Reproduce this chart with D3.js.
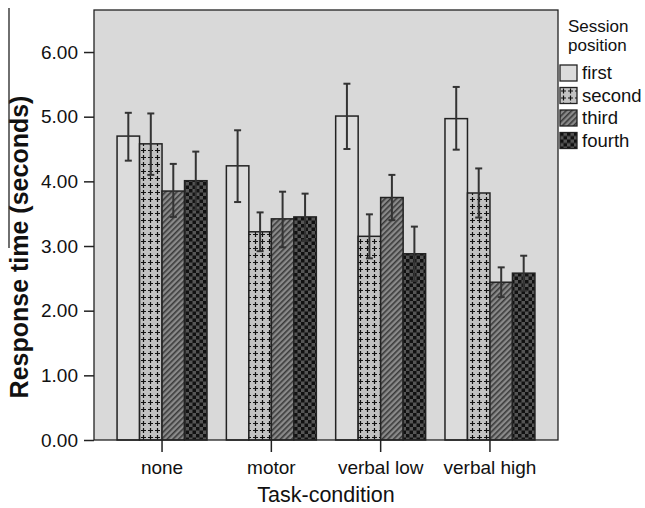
<!DOCTYPE html>
<html>
<head>
<meta charset="utf-8">
<script src="https://cdn.jsdelivr.net/npm/d3@7"></script>
<style>
  body { margin: 0; background: #fff; }
  text { font-family: "Liberation Sans", Arial, sans-serif; fill: #111; }
</style>
</head>
<body>
<svg id="chart"></svg>
<script>
// data
const categories = ["none", "motor", "verbal low", "verbal high"];
const sessions = ["first", "second", "third", "fourth"];

const meanFirst  = [4.70, 4.24, 5.01, 4.97];
const meanSecond = [4.58, 3.22, 3.15, 3.82];
const meanThird  = [3.85, 3.42, 3.75, 2.44];
const meanFourth = [4.01, 3.45, 2.88, 2.58];

const hiFirst  = [5.06, 4.79, 5.51, 5.46];
const hiSecond = [5.05, 3.52, 3.49, 4.20];
const hiThird  = [4.27, 3.84, 4.10, 2.67];
const hiFourth = [4.46, 3.81, 3.30, 2.85];

const loFirst  = [4.32, 3.68, 4.50, 4.49];
const loSecond = [4.10, 2.92, 2.81, 3.44];
const loThird  = [3.45, 2.98, 3.40, 2.21];
const loFourth = [3.56, 3.09, 2.46, 2.31];

const yTicks = [0, 1, 2, 3, 4, 5, 6];

const means = [meanFirst, meanSecond, meanThird, meanFourth];
const his = [hiFirst, hiSecond, hiThird, hiFourth];
const los = [loFirst, loSecond, loThird, loFourth];

const rows = [];
categories.forEach((c, ci) => {
  sessions.forEach((s, si) => {
    rows.push({ cat: c, session: s, mean: means[si][ci], hi: his[si][ci], lo: los[si][ci] });
  });
});

const width = 645, height = 508;
const plot = { left: 94, right: 558, top: 10, bottom: 440 };

const svg = d3.select("#chart")
  .attr("width", width)
  .attr("height", height);

const defs = svg.append("defs");

// pattern for "second": pluses on light gray
const pPlus = defs.append("pattern")
  .attr("id", "pat-second")
  .attr("patternUnits", "userSpaceOnUse")
  .attr("width", 7).attr("height", 7);
pPlus.append("rect").attr("width", 7).attr("height", 7).attr("fill", "#c2c2c2");
pPlus.append("path")
  .attr("d", "M3.5,1 V6 M1,3.5 H6")
  .attr("stroke", "#111").attr("stroke-width", 1.2);

// pattern for "third": diagonal hatch
const pHatch = defs.append("pattern")
  .attr("id", "pat-third")
  .attr("patternUnits", "userSpaceOnUse")
  .attr("width", 4).attr("height", 4)
  .attr("patternTransform", "rotate(45)");
pHatch.append("rect").attr("width", 4).attr("height", 4).attr("fill", "#8a8a8a");
pHatch.append("rect").attr("width", 1.6).attr("height", 4).attr("fill", "#3a3a3a");

// pattern for "fourth": checkerboard
const pCheck = defs.append("pattern")
  .attr("id", "pat-fourth")
  .attr("patternUnits", "userSpaceOnUse")
  .attr("width", 7).attr("height", 7);
pCheck.append("rect").attr("width", 7).attr("height", 7).attr("fill", "#555");
pCheck.append("rect").attr("width", 3.5).attr("height", 3.5).attr("fill", "#111");
pCheck.append("rect").attr("x", 3.5).attr("y", 3.5).attr("width", 3.5).attr("height", 3.5).attr("fill", "#111");

const fills = {
  first: "#dcdcdc",
  second: "url(#pat-second)",
  third: "url(#pat-third)",
  fourth: "url(#pat-fourth)"
};

// scales
const x = d3.scaleBand()
  .domain(categories)
  .range([plot.left, plot.right])
  .paddingInner(0.177)
  .paddingOuter(0.211);

const xs = d3.scaleBand()
  .domain(sessions)
  .range([0, x.bandwidth()]);

const y = d3.scaleLinear()
  .domain([0, 6.65])
  .range([plot.bottom, plot.top]);

// plot background
svg.append("rect")
  .attr("x", plot.left).attr("y", plot.top)
  .attr("width", plot.right - plot.left)
  .attr("height", plot.bottom - plot.top)
  .attr("fill", "#d9d9d9");

// bars
svg.append("g").selectAll("rect")
  .data(rows)
  .join("rect")
  .attr("x", d => x(d.cat) + xs(d.session))
  .attr("y", d => y(d.mean))
  .attr("width", xs.bandwidth())
  .attr("height", d => y(0) - y(d.mean))
  .attr("fill", d => fills[d.session])
  .attr("stroke", "#222")
  .attr("stroke-width", 1.5);

// error bars
const err = svg.append("g")
  .attr("stroke", "#333")
  .attr("stroke-width", 2);
const cap = 3.5;
rows.forEach(d => {
  const cx = x(d.cat) + xs(d.session) + xs.bandwidth() / 2;
  err.append("line").attr("x1", cx).attr("x2", cx).attr("y1", y(d.lo)).attr("y2", y(d.hi));
  err.append("line").attr("x1", cx - cap).attr("x2", cx + cap).attr("y1", y(d.lo)).attr("y2", y(d.lo));
  err.append("line").attr("x1", cx - cap).attr("x2", cx + cap).attr("y1", y(d.hi)).attr("y2", y(d.hi));
});

// frame
svg.append("rect")
  .attr("x", plot.left).attr("y", plot.top)
  .attr("width", plot.right - plot.left)
  .attr("height", plot.bottom - plot.top)
  .attr("fill", "none")
  .attr("stroke", "#222")
  .attr("stroke-width", 1.3);

// y axis
const yAxis = svg.append("g")
  .attr("transform", `translate(${plot.left},0)`)
  .call(d3.axisLeft(y).tickValues(yTicks).tickFormat(d3.format(".2f")).tickSize(10).tickPadding(6));
yAxis.select(".domain").remove();
yAxis.selectAll("line").attr("stroke", "#222").attr("stroke-width", 1.5);
yAxis.selectAll("text")
  .attr("font-size", "19px")
  .attr("font-family", "Liberation Sans, Arial, sans-serif")
  .attr("fill", "#111");

// x axis
const xAxis = svg.append("g")
  .attr("transform", `translate(0,${plot.bottom})`)
  .call(d3.axisBottom(x).tickSize(12).tickPadding(9));
xAxis.select(".domain").remove();
xAxis.selectAll("line").attr("stroke", "#222").attr("stroke-width", 1.5);
xAxis.selectAll("text")
  .attr("font-size", "19px")
  .attr("font-family", "Liberation Sans, Arial, sans-serif")
  .attr("fill", "#111");

// axis titles
svg.append("text")
  .attr("x", 326)
  .attr("y", 502)
  .attr("text-anchor", "middle")
  .attr("font-size", "21.5px")
  .text("Task-condition");

svg.append("text")
  .attr("transform", "translate(28,247) rotate(-90)")
  .attr("text-anchor", "middle")
  .attr("font-size", "25px")
  .attr("font-weight", "bold")
  .text("Response time (seconds)");

// stray vertical rule at far left
svg.append("line")
  .attr("x1", 9).attr("x2", 9)
  .attr("y1", 8).attr("y2", 248)
  .attr("stroke", "#222")
  .attr("stroke-width", 1.3);

// legend
const legend = svg.append("g");
legend.append("text").attr("x", 568).attr("y", 32).attr("font-size", "17px").text("Session");
legend.append("text").attr("x", 568).attr("y", 51).attr("font-size", "17px").text("position");

const item = legend.selectAll("g.item")
  .data(sessions)
  .join("g")
  .attr("class", "item")
  .attr("transform", (d, i) => `translate(560,${65 + i * 22.5})`);
item.append("rect")
  .attr("width", 17).attr("height", 16)
  .attr("fill", d => fills[d])
  .attr("stroke", "#222")
  .attr("stroke-width", 1.3);
item.append("text")
  .attr("x", 22).attr("y", 14)
  .attr("font-size", "18.5px")
  .text(d => d);
</script>
</body>
</html>
